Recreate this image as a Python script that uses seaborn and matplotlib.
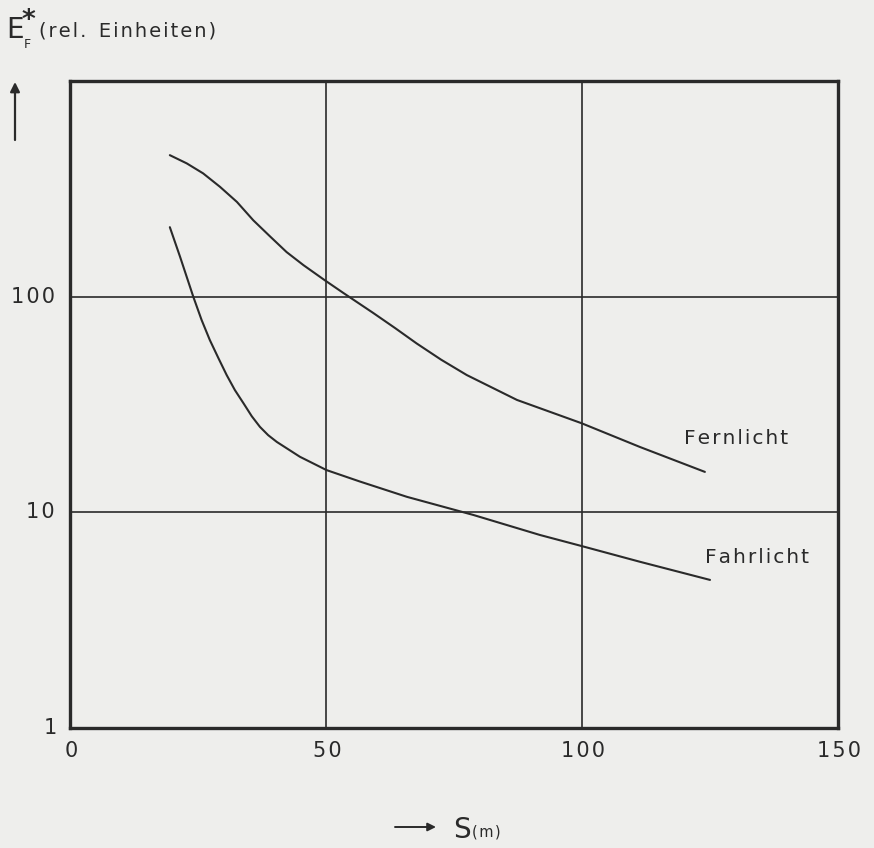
import numpy as np
import pandas as pd
import matplotlib
matplotlib.use("Agg")
import matplotlib.pyplot as plt
import seaborn as sns

# Data (distance S in m, relative illuminance)
fern_s = [19.5, 22.8, 26.0, 29.3, 32.6, 35.8, 39.1, 42.3, 45.6, 49.8, 53.4, 56.6, 59.2,
          63.5, 67.7, 72.5, 77.5, 87.3, 99.9, 111.3, 124.0]
fern_e = [453, 415, 373, 323, 275, 226, 190, 161, 140, 119, 104, 92.5, 84.1,
          71.5, 60.7, 51.0, 43.3, 33.2, 25.9, 20.1, 15.4]
fahr_s = [19.5, 21.5, 24.1, 25.7, 27.3, 29.0, 30.6, 32.2, 33.9, 35.5, 37.1, 38.7, 40.4,
          44.9, 50.1, 56.6, 65.8, 78.8, 91.8, 99.9, 111.3, 125.0]
fahr_e = [210, 153, 99.6, 78.0, 63.0, 51.8, 43.3, 36.9, 32.0, 27.9, 24.9, 22.8, 21.2,
          18.1, 15.7, 13.9, 11.8, 9.72, 7.85, 6.98, 5.90, 4.86]
x_ticks = [0, 50, 100, 150]
y_ticks = [1, 10, 100]
y_ticklabels = ["1", "10", "100"]
series_names = ["Fernlicht", "Fahrlicht"]

df = pd.concat([
    pd.DataFrame({"s": fern_s, "E": fern_e, "name": series_names[0]}),
    pd.DataFrame({"s": fahr_s, "E": fahr_e, "name": series_names[1]}),
])

bg = "#eeeeec"
ink = "#2a2a2a"
sns.set_theme(style="white")
plt.rcParams['font.family'] = ['DejaVu Sans']

fig = plt.figure(figsize=(8.74, 8.48), dpi=100, facecolor=bg)
ax = fig.add_axes([70/874, 120/848, 768/874, 647/848])
ax.set_facecolor(bg)

sns.lineplot(data=df, x="s", y="E", hue="name", units="name", estimator=None,
             palette={series_names[0]: ink, series_names[1]: ink},
             legend=False, sort=False, ax=ax, linewidth=1.5)
for ln in ax.get_lines():
    ln.set_solid_joinstyle("round")
    ln.set_solid_capstyle("round")

ax.set_yscale("log")
ax.set_xlim(0, 150)
ax.set_ylim(1, 1000)
ax.set_xticks([50, 100])
ax.set_yticks([10, 100])
ax.yaxis.set_minor_locator(matplotlib.ticker.NullLocator())
ax.set_xticklabels([])
ax.set_yticklabels([])
ax.tick_params(length=0)
ax.grid(True, which="major", color=ink, linewidth=1.2)
for sp in ax.spines.values():
    sp.set_visible(True)
    sp.set_color(ink)
    sp.set_linewidth(2.4)
ax.set_xlabel("")
ax.set_ylabel("")

HS = "\u200a"
def spaced(t):
    return HS.join(t)

tfs = 15
for xv in x_ticks:
    ax.annotate(spaced(str(xv)), (xv, 0), xycoords=("data", "axes fraction"), xytext=(1, -23),
                textcoords="offset pixels", ha="center", va="center", fontsize=tfs, color=ink)
for yv, lab in zip(y_ticks, y_ticklabels):
    dx = -13 if yv == 1 else -15
    ax.annotate(spaced(lab), (0, yv), xycoords=("axes fraction", "data"), xytext=(dx, 0),
                textcoords="offset pixels", ha="right", va="center", fontsize=tfs, color=ink)

ax.text(130.1, 22.1, spaced("Fernlicht"), fontsize=14.5, color=ink, ha="center", va="center")
ax.text(134.2, 6.2, spaced("Fahrlicht"), fontsize=14.5, color=ink, ha="center", va="center")

# axis titles
fig.text(6/874, 1 - 30/848, "E", fontsize=20, color=ink, ha="left", va="center")
fig.text(22/874, 1 - 21/848, "*", fontsize=19, color=ink, ha="left", va="center", fontweight="bold")
fig.text(24/874, 1 - 44/848, "F", fontsize=9, color=ink, ha="left", va="center")
fig.text(39/874, 1 - 31/848, spaced("(rel.") + "  " + spaced("Einheiten)"), fontsize=14, color=ink,
         ha="left", va="center")
fig.add_artist(matplotlib.patches.FancyArrowPatch((15/874, 1 - 140/848), (15/874, 1 - 82/848),
               transform=fig.transFigure, arrowstyle="-|>", mutation_scale=14, color=ink,
               linewidth=1.6, shrinkA=0, shrinkB=0))
fig.add_artist(matplotlib.patches.FancyArrowPatch((395/874, 1 - 827/848), (436/874, 1 - 827/848),
               transform=fig.transFigure, arrowstyle="-|>", mutation_scale=12, color=ink,
               linewidth=1.4, shrinkA=0, shrinkB=0))
fig.text(453/874, 1 - 830/848, "S", fontsize=20, color=ink, ha="left", va="center")
fig.text(472/874, 1 - 832/848, spaced("(m)"), fontsize=10.5, color=ink, ha="left", va="center")

fig.savefig("out.png", dpi=100, facecolor=bg)
